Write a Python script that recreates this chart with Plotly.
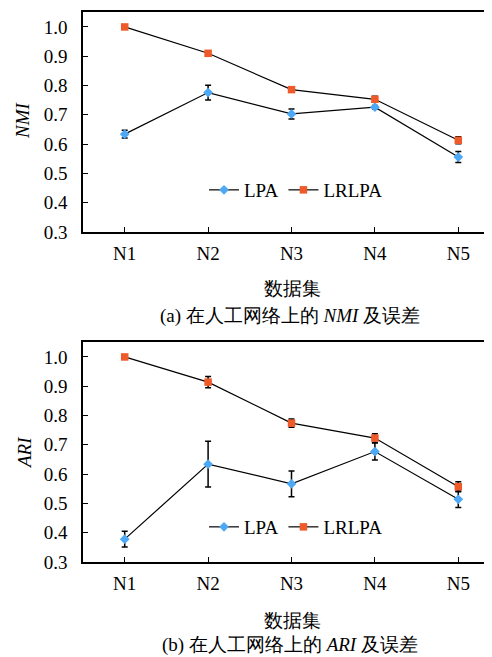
import plotly.graph_objects as go

categories = ["N1", "N2", "N3", "N4", "N5"]

nmi_lpa = [0.634, 0.776, 0.703, 0.726, 0.556]
nmi_lpa_err = [0.013, 0.025, 0.017, 0.006, 0.019]
nmi_lrlpa = [1.0, 0.910, 0.786, 0.753, 0.613]
nmi_lrlpa_err = [0.0, 0.008, 0.003, 0.010, 0.012]

ari_lpa = [0.378, 0.634, 0.567, 0.677, 0.514]
ari_lpa_err = [0.027, 0.078, 0.044, 0.029, 0.028]
ari_lrlpa = [1.0, 0.914, 0.774, 0.723, 0.557]
ari_lrlpa_err = [0.0, 0.019, 0.014, 0.015, 0.017]

y_ticks = [0.3, 0.4, 0.5, 0.6, 0.7, 0.8, 0.9, 1.0]
y_tick_text = ["0.3", "0.4", "0.5", "0.6", "0.7", "0.8", "0.9", "1.0"]

W, H = 492, 657
OFF = 8  # page body margin offset
SERIF = "Times New Roman"
BLUE = "#4DA8F5"
ORANGE = "#EE5A2A"

fig = go.Figure()


def add_panel(lpa, lpa_err, lrlpa, lrlpa_err, xa, ya, leg):
    fig.add_trace(go.Scatter(
        x=categories, y=lpa, name="LPA", mode="lines+markers",
        line=dict(color="black", width=1.2),
        marker=dict(symbol="diamond", color=BLUE, size=7.5),
        error_y=dict(type="data", array=lpa_err, color="black", thickness=1.5, width=3),
        xaxis=xa, yaxis=ya, legend=leg,
    ))
    fig.add_trace(go.Scatter(
        x=categories, y=lrlpa, name="LRLPA", mode="lines+markers",
        line=dict(color="black", width=1.2),
        marker=dict(symbol="square", color=ORANGE, size=7.5),
        error_y=dict(type="data", array=lrlpa_err, color="black", thickness=1.5, width=3),
        xaxis=xa, yaxis=ya, legend=leg,
    ))


add_panel(nmi_lpa, nmi_lpa_err, nmi_lrlpa, nmi_lrlpa_err, "x", "y", "legend")
add_panel(ari_lpa, ari_lpa_err, ari_lrlpa, ari_lrlpa_err, "x2", "y2", "legend2")


def px(x):
    return (x - OFF) / W


def py(y):
    return 1 - (y - OFF) / H


x_dom = [px(83), 1]
xr = [-0.5, 4.5]
yr = [0.3, 1.051]

top_dom = [py(232), py(12)]
bot_dom = [py(562), py(342)]

xaxis_common = dict(
    type="category", range=xr, showline=True, linecolor="black", linewidth=1.5,
    mirror=True, ticks="inside", ticklen=5, tickcolor="black", tickwidth=1,
    showgrid=False, zeroline=False, fixedrange=True, automargin=False,
    tickfont=dict(family=SERIF, size=19, color="black"), ticklabelstandoff=3,
)
yaxis_common = dict(
    range=yr, tickvals=y_ticks, ticktext=y_tick_text, showline=True,
    linecolor="black", linewidth=1.5, ticks="inside", ticklen=5, tickcolor="black",
    tickwidth=1, showgrid=False, zeroline=False, fixedrange=True, automargin=False,
    tickfont=dict(family=SERIF, size=19, color="black"), ticklabelstandoff=10,
)

legend_common = dict(
    orientation="h", xanchor="left", yanchor="middle",
    font=dict(family=SERIF, size=19, color="black"),
    bgcolor="rgba(0,0,0,0)", itemwidth=30, tracegroupgap=0,
)


def ann(text, xp, yp, size=19, angle=0):
    return dict(text=text, x=px(xp), y=py(yp), xref="paper", yref="paper",
                xanchor="center", yanchor="middle", textangle=angle, showarrow=False,
                font=dict(family=SERIF, size=size, color="black"))


fig.update_layout(
    width=W, height=H,
    margin=dict(l=0, r=0, t=0, b=0, pad=0, autoexpand=False),
    paper_bgcolor="white", plot_bgcolor="white",
    xaxis=dict(domain=x_dom, anchor="y", **xaxis_common),
    yaxis=dict(domain=top_dom, anchor="x", **yaxis_common),
    xaxis2=dict(domain=x_dom, anchor="y2", **xaxis_common),
    yaxis2=dict(domain=bot_dom, anchor="x2", **yaxis_common),
    legend=dict(x=px(204), y=py(190), **legend_common),
    legend2=dict(x=px(204), y=py(527), **legend_common),
    annotations=[
        ann("<i>NMI</i>", 22, 120, angle=-90),
        ann("<i>ARI</i>", 24, 453, angle=-90),
        ann("数据集", 292, 288),
        ann("数据集", 292, 620),
        ann("(a) 在人工网络上的 <i>NMI</i> 及误差", 290, 316, size=19),
        ann("(b) 在人工网络上的 <i>ARI</i> 及误差", 290, 645, size=19),
    ],
)

fig.write_html("out.html")
